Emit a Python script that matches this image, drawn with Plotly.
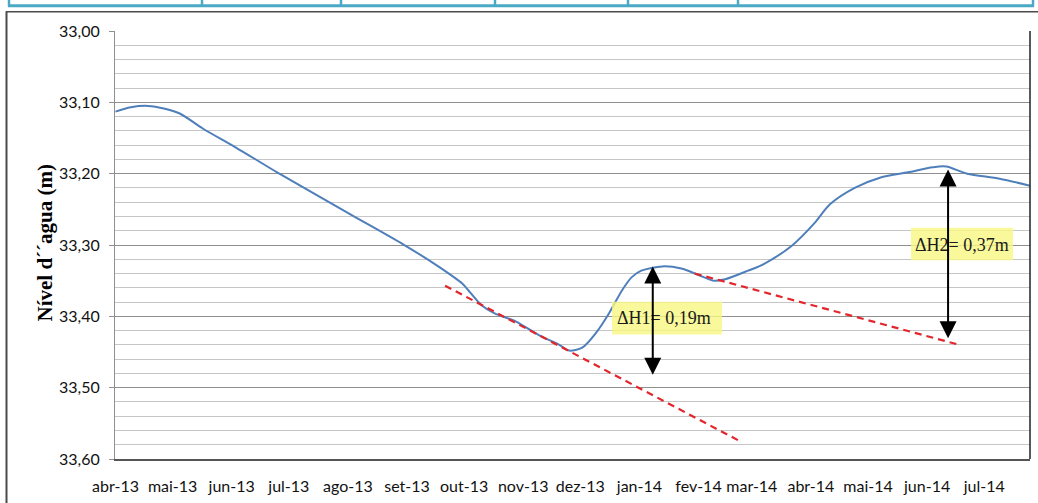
import plotly.graph_objects as go

# Water level readings (m), date of each reading
dates = [
    "2013-04-01", "2013-04-09", "2013-04-18", "2013-04-27", "2013-05-05",
    "2013-05-17", "2013-06-03", "2013-06-26", "2013-08-03", "2013-08-30",
    "2013-09-18", "2013-09-30", "2013-10-04", "2013-10-10", "2013-10-17",
    "2013-10-28", "2013-11-09", "2013-11-20", "2013-11-25", "2013-12-02",
    "2013-12-09", "2013-12-16", "2013-12-23", "2013-12-28", "2014-01-02",
    "2014-01-13", "2014-01-23", "2014-02-01", "2014-02-09", "2014-02-15",
    "2014-02-27", "2014-03-07", "2014-03-22", "2014-04-03", "2014-04-11",
    "2014-04-24", "2014-05-08", "2014-05-22", "2014-06-04", "2014-06-11",
    "2014-06-22", "2014-07-09", "2014-07-25",
]
level = [
    33.113, 33.107, 33.105, 33.109, 33.116,
    33.137, 33.163, 33.200, 33.258, 33.299,
    33.331, 33.354, 33.366, 33.384, 33.396,
    33.407, 33.426, 33.440, 33.448, 33.444,
    33.424, 33.396, 33.363, 33.345, 33.336,
    33.330, 33.333, 33.342, 33.350, 33.348,
    33.336, 33.327, 33.301, 33.269, 33.243,
    33.220, 33.205, 33.198, 33.191, 33.190,
    33.200, 33.207, 33.217,
]

# Recession trend lines (extrapolated)
trend1_dates = ["2013-09-21", "2014-02-22"]
trend1_level = [33.357, 33.574]
trend2_dates = ["2014-01-30", "2014-06-18"]
trend2_level = [33.340, 33.440]

# Recharge arrows and their labels
dh_dates = ["2014-01-08", "2014-06-12"]
dh_top = [33.330, 33.194]
dh_bottom = [33.484, 33.433]
dh_labels = ["ΔH1= 0,19m", "ΔH2= 0,37m"]

month_ticks = [
    "2013-04-01", "2013-05-01", "2013-06-01", "2013-07-01", "2013-08-01",
    "2013-09-01", "2013-10-01", "2013-11-01", "2013-12-01", "2014-01-01",
    "2014-02-01", "2014-03-01", "2014-04-01", "2014-05-01", "2014-06-01",
    "2014-07-01",
]
month_labels = [
    "abr-13", "mai-13", "jun-13", "jul-13", "ago-13", "set-13", "out-13",
    "nov-13", "dez-13", "jan-14", "fev-14", "mar-14", "abr-14", "mai-14",
    "jun-14", "jul-14",
]
y_ticks = [33.0, 33.1, 33.2, 33.3, 33.4, 33.5, 33.6]
y_labels = ["33,00", "33,10", "33,20", "33,30", "33,40", "33,50", "33,60"]

W, H = 1038, 503
L, R, T, B = 115, 8, 31, 39
PW, PH = W - L - R, H - T - B


def px(x):
    return (x - L) / PW


def py(y):
    return (H - B - y) / PH


fig = go.Figure()
fig.add_trace(go.Scatter(
    x=dates, y=level, mode="lines",
    line=dict(color="#4f7fba", width=2, shape="spline", smoothing=0.8),
))
for xs, ys in ((trend1_dates, trend1_level), (trend2_dates, trend2_level)):
    fig.add_trace(go.Scatter(
        x=xs, y=ys, mode="lines",
        line=dict(color="#e3262c", width=2.2, dash="7px,5px"),
    ))

shapes = []
# page table rule above the chart
teal = "#4aa9c4"
shapes.append(dict(type="line", xref="paper", yref="paper",
                   x0=px(8), x1=px(1034), y0=py(5.5), y1=py(5.5),
                   line=dict(color=teal, width=3)))
for xv in (9, 202, 341, 495, 628, 738, 1033):
    shapes.append(dict(type="line", xref="paper", yref="paper",
                       x0=px(xv), x1=px(xv), y0=py(-2), y1=py(6),
                       line=dict(color=teal, width=2.5)))
# chart frame
shapes.append(dict(type="line", xref="paper", yref="paper",
                   x0=px(6), x1=px(1040), y0=py(11.5), y1=py(11.5),
                   line=dict(color="#4a4a4a", width=1.5)))
shapes.append(dict(type="line", xref="paper", yref="paper",
                   x0=px(6.5), x1=px(6.5), y0=py(11), y1=py(510),
                   line=dict(color="#4a4a4a", width=2)))
# right edge of plot area
shapes.append(dict(type="line", xref="paper", yref="paper",
                   x0=1, x1=1, y0=0, y1=1,
                   line=dict(color="#222222", width=1.5)))
# label boxes
boxes = [(612, 305, 722, 338), (911, 230, 1013, 263)]
for x0, y0, x1, y1 in boxes:
    shapes.append(dict(type="rect", xref="paper", yref="paper",
                       x0=px(x0), x1=px(x1), y0=py(y1), y1=py(y0),
                       fillcolor="rgba(248,248,130,0.8)", line=dict(width=0),
                       layer="above"))

annotations = []
label_pos = [(615, 321.5), (913, 248)]
for (lx, ly), text in zip(label_pos, dh_labels):
    annotations.append(dict(
        xref="paper", yref="paper", x=px(lx), y=py(ly),
        xanchor="left", yanchor="middle", showarrow=False, text=text,
        font=dict(family="Liberation Serif", size=18, color="#1a1a1a"),
    ))
for d, top, bot in zip(dh_dates, dh_top, dh_bottom):
    annotations.append(dict(
        x=d, y=top, ax=d, ay=bot, xref="x", yref="y", axref="x", ayref="y",
        text="", showarrow=True, arrowside="end+start", arrowhead=2,
        arrowsize=1.7, arrowwidth=2, arrowcolor="#000000", standoff=0,
        startstandoff=0, startarrowhead=2, startarrowsize=1.7,
    ))
annotations.append(dict(
    xref="paper", yref="paper", x=px(31), y=py(246), textangle=-90,
    showarrow=False, text="<b>Nível d´´agua (m)</b>",
    font=dict(family="Liberation Serif", size=21, color="#000000"),
))

fig.update_layout(
    width=W, height=H, autosize=False,
    margin=dict(l=L, r=R, t=T, b=B, pad=0),
    paper_bgcolor="white", plot_bgcolor="white",
    showlegend=False,
    shapes=shapes, annotations=annotations,
    xaxis=dict(
        type="date", range=["2013-03-31 18:00", dates[-1]],
        tickmode="array", tickvals=month_ticks, ticktext=month_labels,
        showgrid=False, zeroline=False, ticks="", ticklabelstandoff=12,
        showline=True, linecolor="#555555", linewidth=2,
        tickfont=dict(family="Lato", size=16, color="#111111"),
    ),
    yaxis=dict(
        range=[33.6, 33.0], tickmode="array", tickvals=y_ticks,
        ticktext=y_labels, showgrid=True, gridcolor="#8f8f8f", gridwidth=1,
        zeroline=False, showline=True, linecolor="#8f8f8f", linewidth=1,
        ticks="outside", ticklen=5, tickcolor="#8f8f8f", ticklabelstandoff=6,
        tickfont=dict(family="Lato", size=16, color="#111111"),
        minor=dict(tick0=33.0, dtick=0.02, showgrid=True,
                   gridcolor="#c6c6c6", gridwidth=1, ticks=""),
    ),
)

fig.write_html("out.html")
